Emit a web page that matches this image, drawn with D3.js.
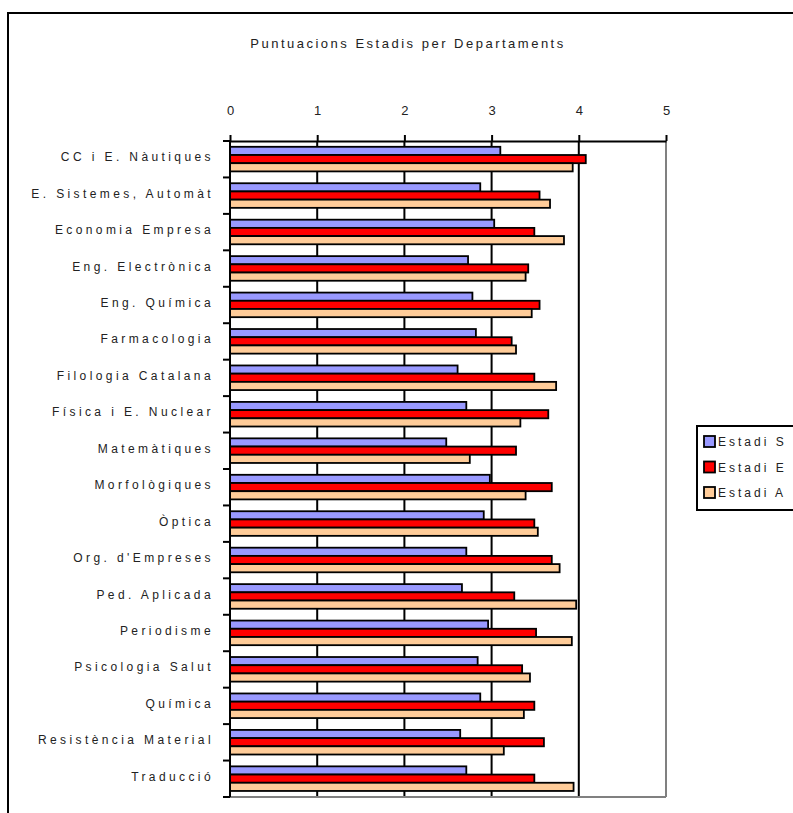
<!DOCTYPE html>
<html>
<head>
<meta charset="utf-8">
<script src="https://cdn.jsdelivr.net/npm/d3@7"></script>
<style>
  body { margin: 0; background: #fff; }
  text { font-family: "Liberation Sans", Arial, sans-serif; fill: #222; }
</style>
</head>
<body>
<div id="chart"></div>
<script>
// data
var departaments = ["CC i E. Nàutiques", "E. Sistemes, Automàt", "Economia Empresa",
  "Eng. Electrònica", "Eng. Química", "Farmacologia", "Filologia Catalana",
  "Física i E. Nuclear", "Matemàtiques", "Morfològiques", "Òptica",
  "Org. d'Empreses", "Ped. Aplicada", "Periodisme", "Psicologia Salut",
  "Química", "Resistència Material", "Traducció"];
var estadiS = [3.10, 2.87, 3.03, 2.73, 2.78, 2.82, 2.61, 2.71, 2.48, 2.98, 2.91, 2.71, 2.66, 2.96, 2.84, 2.87, 2.64, 2.71];
var estadiE = [4.08, 3.55, 3.49, 3.42, 3.55, 3.23, 3.49, 3.65, 3.28, 3.69, 3.49, 3.69, 3.26, 3.51, 3.35, 3.49, 3.60, 3.49];
var estadiA = [3.93, 3.67, 3.83, 3.39, 3.46, 3.28, 3.74, 3.33, 2.75, 3.39, 3.53, 3.78, 3.97, 3.92, 3.44, 3.37, 3.14, 3.94];
var seriesNames = ["Estadi S", "Estadi E", "Estadi A"];
var xTicks = [0, 1, 2, 3, 4, 5];

var colors = {"Estadi S": "#9999ff", "Estadi E": "#ff0000", "Estadi A": "#ffcc99"};

var W = 793, H = 813;
var plot = {left: 230, right: 666, top: 141, bottom: 797};

var svg = d3.select("#chart")
  .append("svg")
    .attr("width", W)
    .attr("height", H);

// outer frame (runs off the right and bottom edge)
svg.append("rect")
  .attr("x", 8).attr("y", 13)
  .attr("width", 820).attr("height", 830)
  .attr("fill", "none")
  .attr("stroke", "#000")
  .attr("stroke-width", 2);

// title
svg.append("text")
  .attr("x", 408).attr("y", 48)
  .attr("text-anchor", "middle")
  .style("font-size", "13px")
  .style("letter-spacing", "2.5px")
  .text("Puntuacions Estadis per Departaments");

var x = d3.scaleLinear()
  .domain([0, 5])
  .range([plot.left, plot.right]);

var y = d3.scaleBand()
  .domain(departaments)
  .range([plot.top, plot.bottom]);

var inner = d3.scaleBand()
  .domain(seriesNames)
  .range([5.8, 30.4]);

// gridlines
svg.append("g")
  .selectAll("line")
  .data(xTicks.slice(1))
  .enter()
  .append("line")
    .attr("x1", function(d) { return x(d); })
    .attr("x2", function(d) { return x(d); })
    .attr("y1", plot.top)
    .attr("y2", plot.bottom)
    .attr("stroke", function(d) { return d === 5 ? "#808080" : "#000"; })
    .attr("stroke-width", 2);

// bottom border
svg.append("line")
  .attr("x1", plot.left).attr("x2", plot.right)
  .attr("y1", plot.bottom).attr("y2", plot.bottom)
  .attr("stroke", "#808080")
  .attr("stroke-width", 2);

// bars
var rows = departaments.map(function(d, i) {
  return {dep: d, vals: [
    {s: "Estadi S", v: estadiS[i]},
    {s: "Estadi E", v: estadiE[i]},
    {s: "Estadi A", v: estadiA[i]}
  ]};
});

var groups = svg.append("g")
  .selectAll("g")
  .data(rows)
  .enter()
  .append("g")
    .attr("transform", function(d) { return "translate(0," + y(d.dep) + ")"; });

groups.selectAll("rect")
  .data(function(d) { return d.vals; })
  .enter()
  .append("rect")
    .attr("x", x(0))
    .attr("y", function(d) { return inner(d.s); })
    .attr("width", function(d) { return x(d.v) - x(0); })
    .attr("height", inner.bandwidth())
    .attr("fill", function(d) { return colors[d.s]; })
    .attr("stroke", "#000")
    .attr("stroke-width", 1.8);

// top axis
var xAxis = svg.append("g")
  .attr("transform", "translate(0," + plot.top + ")")
  .call(d3.axisTop(x).tickValues(xTicks).tickFormat(d3.format("d"))
    .tickSize(6).tickPadding(20).tickSizeOuter(0));
xAxis.select(".domain").attr("stroke", "#000").attr("stroke-width", 2);
xAxis.selectAll(".tick line").attr("stroke", "#000").attr("stroke-width", 2);
xAxis.selectAll("text")
  .style("font-size", "13px")
  .style("font-family", "'Liberation Sans', Arial, sans-serif")
  .attr("fill", "#222");

// left axis: line + ticks at band boundaries
var bounds = departaments.map(function(d) { return y(d); }).concat([plot.bottom]);
svg.append("line")
  .attr("x1", plot.left).attr("x2", plot.left)
  .attr("y1", plot.top).attr("y2", plot.bottom)
  .attr("stroke", "#000").attr("stroke-width", 2);
svg.append("g")
  .selectAll("line")
  .data(bounds)
  .enter()
  .append("line")
    .attr("x1", plot.left - 7).attr("x2", plot.left)
    .attr("y1", function(d) { return d; })
    .attr("y2", function(d) { return d; })
    .attr("stroke", "#000").attr("stroke-width", 2);

// category labels
svg.append("g")
  .selectAll("text")
  .data(departaments)
  .enter()
  .append("text")
    .attr("x", 214)
    .attr("y", function(d) { return y(d) + y.bandwidth() / 2 + 2; })
    .attr("text-anchor", "end")
    .style("font-size", "12px")
    .style("letter-spacing", "3.4px")
    .text(function(d) { return d; });

// legend
var legend = svg.append("g");
legend.append("rect")
  .attr("x", 697).attr("y", 426)
  .attr("width", 110).attr("height", 84)
  .attr("fill", "#fff")
  .attr("stroke", "#000")
  .attr("stroke-width", 2);

var items = legend.selectAll("g.item")
  .data(seriesNames)
  .enter()
  .append("g")
    .attr("class", "item")
    .attr("transform", function(d, i) { return "translate(704," + (436 + i * 25.5) + ")"; });

items.append("rect")
  .attr("x", 0).attr("y", 0)
  .attr("width", 11).attr("height", 11)
  .attr("fill", function(d) { return colors[d]; })
  .attr("stroke", "#000")
  .attr("stroke-width", 1.8);

items.append("text")
  .attr("x", 14).attr("y", 10)
  .style("font-size", "12px")
  .style("letter-spacing", "3px")
  .text(function(d) { return d; });
</script>
</body>
</html>
